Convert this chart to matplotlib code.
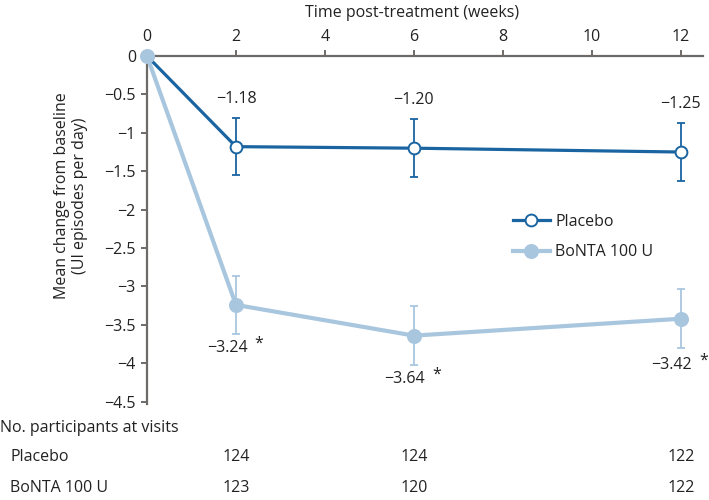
import matplotlib
matplotlib.use("Agg")
import matplotlib.pyplot as plt

plt.rcParams['font.family'] = ['Open Sans', 'DejaVu Sans']

weeks = [0, 2, 6, 12]
placebo = [0, -1.18, -1.20, -1.25]
placebo_err = [0, 0.375, 0.375, 0.38]
bonta = [0, -3.24, -3.64, -3.42]
bonta_err = [0, 0.38, 0.385, 0.385]
placebo_labels = ["−1.18", "−1.20", "−1.25"]
bonta_labels = ["−3.24", "−3.64", "−3.42"]
xticks = [0, 2, 4, 6, 8, 10, 12]
yticks = [0, -0.5, -1, -1.5, -2, -2.5, -3, -3.5, -4, -4.5]
ytick_labels = ["0", "−0.5", "−1", "−1.5", "−2", "−2.5", "−3", "−3.5", "−4", "−4.5"]
n_weeks = [2, 6, 12]
n_placebo = [124, 124, 122]
n_bonta = [123, 120, 122]

DARK = "#1a65a1"
LIGHT = "#a9c6df"
GRAY = "#6e6a67"
TXT = "#222222"
FS = 11.5

W, H = 709, 500
fig = plt.figure(figsize=(W / 100, H / 100), dpi=100)
ax = fig.add_axes([147 / W, 1 - 404 / H, (703 - 147) / W, (404 - 56) / H])
ax.set_xlim(0, 12.5)
ax.set_ylim(-4.53, 0)

# error bars
ax.errorbar(weeks[1:], bonta[1:], yerr=bonta_err[1:], fmt='none', ecolor=LIGHT,
            elinewidth=1.3, capsize=2.8, capthick=1.3, zorder=2)
ax.errorbar(weeks[1:], placebo[1:], yerr=placebo_err[1:], fmt='none', ecolor=DARK,
            elinewidth=1.3, capsize=2.8, capthick=1.3, zorder=3)

h_bonta, = ax.plot(weeks, bonta, color=LIGHT, lw=3.0, marker='o', ms=9.8, mfc=LIGHT,
                   mec=LIGHT, label="BoNTA 100 U", zorder=4)
h_plac, = ax.plot(weeks, placebo, color=DARK, lw=2.3, marker='o', ms=8.5, mfc='white',
                  mec=DARK, mew=1.4, label="Placebo", zorder=5, markevery=[1, 2, 3])
# BoNTA point at baseline drawn over
ax.plot([weeks[0]], [bonta[0]], marker='o', ms=9.8, color=LIGHT, zorder=6, clip_on=False)

# data labels (offsets in pixels)
for x, y, e, t in zip(weeks[1:], placebo[1:], placebo_err[1:], placebo_labels):
    ax.annotate(t, (x, y + e), xytext=(0, 19), textcoords='offset pixels',
                ha='center', va='center', fontsize=FS, color=TXT)
offs = [(-9, -43), (-9, -43), (-9, -46)]
for (x, y, t), (dx, dy) in zip(zip(weeks[1:], bonta[1:], bonta_labels), offs):
    ax.annotate(t, (x, y), xytext=(dx, dy), textcoords='offset pixels',
                ha='center', va='center', fontsize=FS, color=TXT)
    ax.annotate("*", (x, y), xytext=(dx + 32, dy + 4), textcoords='offset pixels',
                ha='center', va='center', fontsize=FS, color=TXT)

# axes styling
for s in ['right', 'bottom']:
    ax.spines[s].set_visible(False)
for s in ['top', 'left']:
    ax.spines[s].set_color(GRAY)
    ax.spines[s].set_linewidth(1.6)
ax.xaxis.tick_top()
ax.set_xticks(xticks)
ax.set_xticklabels([str(v) for v in xticks])
ax.set_yticks(yticks)
ax.set_yticklabels(ytick_labels)
ax.tick_params(axis='both', colors=GRAY, width=1.4, length=4, labelsize=FS,
               labelcolor=TXT, pad=4)

leg = ax.legend(handles=[h_plac, h_bonta], loc='center left',
                bbox_to_anchor=((513 - 147) / (703 - 147), 1 - (237 - 56) / (404 - 56)),
                frameon=False, fontsize=FS, handlelength=2.3, handletextpad=0.35,
                labelspacing=0.9, borderpad=0, borderaxespad=0)
for t in leg.get_texts():
    t.set_color(TXT)

# titles
fig.text(412 / W, 1 - 13 / H, "Time post-treatment (weeks)", ha='center', va='center',
         fontsize=FS, color=TXT)
fig.text(71 / W, 1 - 196 / H, "Mean change from baseline\n(UI episodes per day)",
         rotation=90, ha='center', va='center', fontsize=FS, color=TXT,
         multialignment='center', linespacing=1.15)

# participants table
fig.text(0 / W, 1 - 428 / H, "No. participants at visits", ha='left', va='center',
         fontsize=FS, color=TXT)
fig.text(10 / W, 1 - 457 / H, "Placebo", ha='left', va='center', fontsize=FS, color=TXT)
fig.text(10 / W, 1 - 488 / H, "BoNTA 100 U", ha='left', va='center', fontsize=FS, color=TXT)
for x, a, b in zip(n_weeks, n_placebo, n_bonta):
    xf = ax.transData.transform((x, 0))[0] / W
    fig.text(xf, 1 - 457 / H, str(a), ha='center', va='center', fontsize=FS, color=TXT)
    fig.text(xf, 1 - 488 / H, str(b), ha='center', va='center', fontsize=FS, color=TXT)

fig.savefig("out.png", dpi=100)
